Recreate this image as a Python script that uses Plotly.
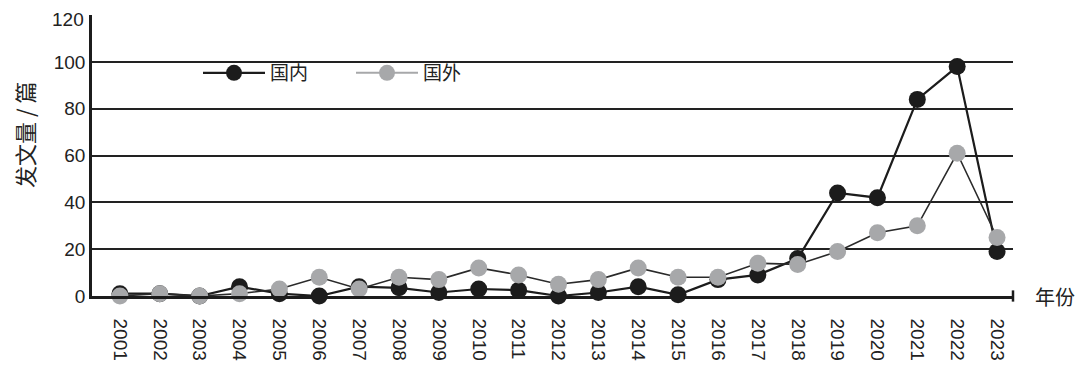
import plotly.graph_objects as go

years = [str(y) for y in range(2001, 2024)]
domestic = [1, 1, 0, 4, 1, 0, 4, 3.5, 1.5, 3, 2.5, 0, 1.5, 4, 0.5, 7, 9, 16, 44, 42, 84, 98, 19]
foreign = [0, 1, 0, 1, 3, 8, 3, 8, 7, 12, 9, 5, 7, 12, 8, 8, 14, 13.5, 19, 27, 30, 61, 25]
y_ticks = [0, 20, 40, 60, 80, 100, 120]
y_ticktext = ["0", "20", "40", "60", "80", "100", ""]  # top label drawn as annotation below

FONT = "Liberation Sans, Arial, Noto Sans CJK SC, sans-serif"
CJK = "Noto Sans CJK SC, sans-serif"
BLACK = "#1c1c1c"
GRAY = "#a7a8aa"

OFF = 8  # default page body margin
W, H = 1083 - OFF, 372 - OFF
L, R, T, B = 92 - OFF, 70, 15 - OFF, 76
pw = W - L - R
ph = H - T - B

fig = go.Figure()
fig.add_trace(go.Scatter(
    x=years, y=domestic, name="国内", mode="lines+markers",
    line=dict(color=BLACK, width=2.2),
    marker=dict(color=BLACK, size=17),
    cliponaxis=False,
))
fig.add_trace(go.Scatter(
    x=years, y=foreign, name="国外", mode="lines+markers",
    line=dict(color="#2a2a2a", width=1.6),
    marker=dict(color=GRAY, size=17),
    cliponaxis=False, showlegend=False,
))
# legend entry for the foreign series (grey line as shown in the key)
fig.add_trace(go.Scatter(
    x=[None], y=[None], name="国外", mode="lines+markers",
    line=dict(color=GRAY, width=2),
    marker=dict(color=GRAY, size=17),
))

def px_x(x):
    return (x - OFF - L) / pw

def px_y(y):
    return (OFF + H - B - y) / ph

fig.update_layout(
    width=W, height=H,
    margin=dict(l=L, r=R, t=T, b=B, autoexpand=False),
    paper_bgcolor="white", plot_bgcolor="white",
    font=dict(family=FONT, color="#222", size=18),
    showlegend=True,
    legend=dict(
        orientation="h", x=px_x(198), y=px_y(73), xanchor="left", yanchor="middle",
        font=dict(size=19, family=CJK, color="#222"),
        itemwidth=62,
        entrywidth=76, entrywidthmode="pixels",
        bgcolor="rgba(0,0,0,0)", itemsizing="trace",
    ),
    xaxis=dict(
        type="category", range=[-0.7, 22.4], automargin=False,
        showgrid=False, showline=True, linecolor="#1c1c1c", linewidth=2.5,
        ticks="", tickangle=90, ticklabelstandoff=16,
        tickfont=dict(size=19, family=FONT, color="#222"),
        zeroline=False, ticklabeloverflow="allow",
    ),
    yaxis=dict(
        range=[0, 120.05], tickvals=y_ticks, ticktext=y_ticktext,
        showgrid=True, automargin=False,
        gridcolor="#222", gridwidth=2.2,
        showline=True, linecolor="#1c1c1c", linewidth=2.5,
        ticks="", ticklabelstandoff=0,
        tickfont=dict(size=19, family=FONT, color="#222"),
        zeroline=False, ticklabeloverflow="allow",
    ),
    annotations=[
        dict(text=str(y_ticks[-1]), x=0, y=y_ticks[-1], xref="paper", yref="y",
             xanchor="right", yanchor="middle", xshift=-6, yshift=-4,
             showarrow=False, font=dict(size=19, family=FONT, color="#222")),
        dict(text="发文量 / 篇", x=px_x(24), y=px_y(135), xref="paper", yref="paper",
             xanchor="center", yanchor="middle",
             textangle=-90, showarrow=False,
             font=dict(size=22, family=CJK, color="#222")),
        dict(text="年份", x=px_x(1055), y=px_y(296), xref="paper", yref="paper",
             xanchor="center", yanchor="middle",
             showarrow=False,
             font=dict(size=20, family=CJK, color="#222")),
    ],
)

# small end tick on the x axis
fig.add_shape(type="line", xref="paper", yref="paper",
              x0=1.0, x1=1.0, y0=-0.02, y1=0.02,
              line=dict(color="#1c1c1c", width=2.5))

fig.write_html("out.html")
